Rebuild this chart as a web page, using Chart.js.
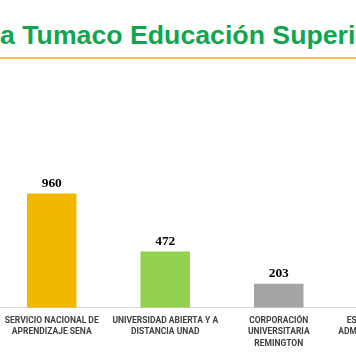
<!DOCTYPE html>
<html>
<head>
<meta charset="utf-8">
<script src="https://cdn.jsdelivr.net/npm/chart.js@4/dist/chart.umd.min.js"></script>
<style>
  html, body { margin:0; padding:0; width:356px; height:364px; overflow:hidden; background:#fff; }
  #title { position:absolute; left:0; top:22px; white-space:nowrap; font:bold 26.7px "Liberation Sans", Arial, sans-serif; line-height:27px; color:#10A64F; }
  #rule { position:absolute; left:0; top:57px; width:356px; height:2px; background:#F6C244; }
  #wrap { position:absolute; left:-5px; top:60px; width:454px; height:304px; }
</style>
</head>
<body>
<div id="title">a Tumaco Educación Superior</div>
<div id="rule"></div>
<div id="wrap"><canvas id="c"></canvas></div>
<script>
const categories = [
  ["SERVICIO NACIONAL DE", "APRENDIZAJE SENA"],
  ["UNIVERSIDAD ABIERTA Y A", "DISTANCIA UNAD"],
  ["CORPORACIÓN", "UNIVERSITARIA", "REMINGTON"],
  ["ESCUELA SUPERIOR DE", "ADMINISTRACIÓN PÚBLICA"]
];
const matricula = [960, 472, 203, 58];
const barColors = ["#F0B800", "#92D050", "#A5A5A5", "#5B9BD5"];

const valueLabels = {
  id: 'valueLabels',
  afterDatasetsDraw(chart) {
    const ctx = chart.ctx;
    const meta = chart.getDatasetMeta(0);
    meta.data.forEach((bar, i) => {
      ctx.save();
      ctx.font = 'bold 12px "Liberation Serif", "Times New Roman", serif';
      ctx.fillStyle = '#000';
      ctx.textAlign = 'center';
      ctx.textBaseline = 'alphabetic';
      ctx.translate(bar.x, bar.y - 6.5);
      ctx.scale(1.12, 1);
      ctx.fillText(String(matricula[i]), 0, 0);
      ctx.restore();
    });
  }
};

new Chart(document.getElementById('c'), {
  type: 'bar',
  data: {
    labels: categories,
    datasets: [{
      data: matricula,
      backgroundColor: barColors,
      borderWidth: 0,
      barPercentage: 0.436,
      categoryPercentage: 1
    }]
  },
  options: {
    responsive: true,
    maintainAspectRatio: false,
    animation: false,
    devicePixelRatio: 1,
    layout: { padding: { top: 0, left: 0, right: 0, bottom: 7.5 } },
    plugins: { legend: { display: false }, title: { display: false }, tooltip: { enabled: false } },
    scales: {
      x: {
        afterFit(scale) { scale.paddingLeft = 0; scale.paddingRight = 0; },
        grid: { display: false, drawTicks: false },
        border: { display: true, color: '#D9D9D9', width: 1 },
        ticks: {
          autoSkip: false, maxRotation: 0, minRotation: 0,
          padding: 7,
          color: '#404040',
          font: { family: 'Roboto, "Liberation Sans", Arial, sans-serif', size: 8.5, weight: 'bold', lineHeight: 1.36 }
        }
      },
      y: { display: false, min: 0, max: 2080 }
    }
  },
  plugins: [valueLabels]
});
</script>
</body>
</html>
